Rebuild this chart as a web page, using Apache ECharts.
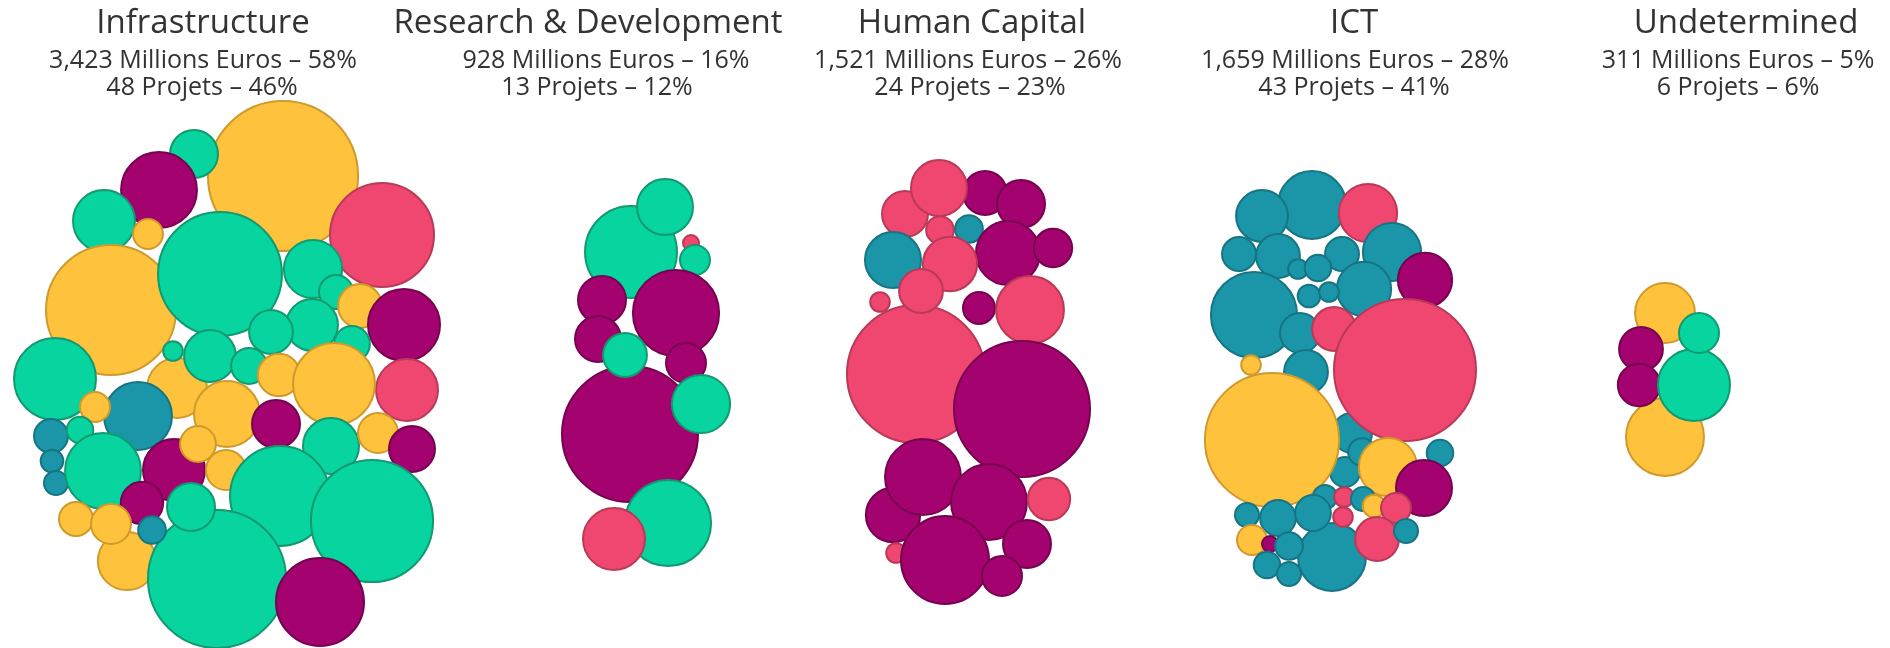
<!DOCTYPE html>
<html>
<head>
<meta charset="utf-8">
<title>Projects by sector</title>
<script src="https://cdn.jsdelivr.net/npm/echarts@6/dist/echarts.min.js"></script>
<style>
  html, body { margin: 0; padding: 0; background: #fff; }
  #container { width: 1890px; height: 648px; }
</style>
</head>
<body>
<div id="container"></div>
<script>
// sector headers
const sectors = ['Infrastructure', 'Research & Development', 'Human Capital', 'ICT', 'Undetermined'];
const sectorEuros = ['3,423', '928', '1,521', '1,659', '311'];
const sectorEuroShare = [58, 16, 26, 28, 5];
const sectorProjects = [48, 13, 24, 43, 6];
const sectorProjectShare = [46, 12, 23, 41, 6];

// project types (colour groups)
const projectTypes = ['yellow', 'green', 'red', 'purple', 'blue'];

// one project per row: [x, y, millions euros, type index]
const infrastructure = [
    [283, 176, 352, 0], [194, 154, 36, 1], [159, 190, 90, 3], [104, 221, 60, 1],
    [148, 234, 14, 0], [111, 310, 264, 0], [220, 274, 240, 1], [382, 235, 169, 2],
    [313, 269, 53, 1], [336, 292, 18, 1], [360, 306, 30, 0], [404, 325, 81, 3],
    [312, 325, 42, 1], [271, 332, 30, 1], [352, 344, 20, 1], [407, 390, 60, 2],
    [55, 379, 105, 1], [177, 388, 56, 0], [173, 351, 6, 1], [210, 356, 42, 1],
    [249, 366, 20, 1], [279, 375, 28, 0], [334, 384, 105, 0], [227, 414, 68, 0],
    [138, 416, 72, 4], [95, 407, 14, 0], [276, 424, 36, 3], [51, 436, 18, 4],
    [80, 430, 11, 1], [52, 461, 8, 4], [56, 483, 9, 4], [103, 471, 90, 1],
    [174, 470, 60, 3], [198, 444, 20, 0], [226, 470, 25, 0], [331, 446, 49, 1],
    [378, 433, 25, 0], [412, 449, 33, 3], [280, 496, 156, 1], [372, 521, 233, 1],
    [127, 561, 53, 0], [217, 579, 298, 1], [142, 503, 28, 3], [191, 507, 36, 1],
    [76, 519, 18, 0], [111, 524, 25, 0], [152, 530, 12, 4], [320, 602, 121, 3]
];
const research = [
    [631, 252, 132, 1], [665, 207, 49, 1], [691, 243, 4, 2], [695, 260, 14, 1],
    [602, 300, 36, 3], [598, 339, 33, 3], [676, 313, 116, 3], [686, 363, 25, 3],
    [630, 434, 289, 3], [625, 355, 30, 1], [701, 404, 53, 1], [668, 523, 116, 1],
    [614, 539, 60, 2]
];
const humanCapital = [
    [985, 193, 30, 3], [905, 214, 33, 2], [939, 188, 49, 2], [1021, 204, 36, 3],
    [940, 230, 12, 2], [969, 229, 12, 4], [893, 260, 49, 4], [1008, 253, 64, 3],
    [1053, 248, 23, 3], [950, 264, 46, 2], [880, 302, 6, 2], [979, 308, 16, 3],
    [1030, 310, 72, 2], [916, 374, 298, 2], [921, 291, 30, 2], [1022, 409, 289, 3],
    [893, 515, 46, 3], [923, 477, 90, 3], [989, 502, 90, 3], [1049, 499, 28, 2],
    [896, 553, 6, 2], [945, 560, 121, 3], [1027, 544, 36, 3], [1002, 576, 25, 3]
];
const ict = [
    [1352, 433, 25, 4], [1345, 472, 14, 4], [1362, 452, 12, 4], [1312, 205, 72, 4],
    [1262, 216, 42, 4], [1368, 213, 53, 2], [1392, 252, 53, 4], [1239, 254, 18, 4],
    [1278, 256, 30, 4], [1342, 254, 18, 4], [1298, 269, 6, 4], [1318, 268, 11, 4],
    [1425, 280, 46, 3], [1364, 289, 46, 4], [1309, 296, 8, 4], [1329, 292, 6, 4],
    [1254, 315, 116, 4], [1300, 333, 25, 4], [1334, 329, 30, 2], [1405, 370, 315, 2],
    [1251, 365, 6, 0], [1306, 372, 30, 4], [1272, 440, 281, 0], [1388, 467, 53, 0],
    [1440, 453, 11, 4], [1424, 488, 49, 3], [1332, 557, 72, 4], [1325, 497, 9, 4],
    [1344, 497, 6, 2], [1363, 499, 9, 4], [1374, 506, 8, 0], [1396, 508, 14, 2],
    [1343, 517, 6, 2], [1247, 515, 9, 4], [1278, 518, 20, 4], [1313, 513, 20, 4],
    [1377, 539, 30, 2], [1406, 531, 9, 4], [1252, 540, 14, 0], [1270, 544, 4, 3],
    [1289, 546, 12, 4], [1267, 565, 11, 4], [1289, 574, 9, 4]
];
const undetermined = [
    [1665, 313, 56, 0], [1665, 437, 95, 0], [1641, 349, 30, 3], [1639, 385, 28, 3],
    [1694, 385, 81, 1], [1699, 333, 25, 1]
];

const fills = ['#FFC23C', '#07D49F', '#EF476F', '#A4036F', '#1B96A8'];
const borders = ['#CF9A2C', '#12996F', '#B93A58', '#76034F', '#167483'];

// header layout
const titleX = [203, 588, 972, 1354, 1746];
const eurosX = [203, 606, 968, 1355, 1738];
const projectsX = [202, 597, 970, 1354, 1738];

const groups = [infrastructure, research, humanCapital, ict, undetermined];

const headerText = [];
sectors.forEach((name, i) => {
    const base = { fontFamily: 'Open Sans', fill: '#333', align: 'center', verticalAlign: 'middle' };
    headerText.push({ type: 'text', x: titleX[i], y: 24, style: Object.assign({ text: name, fontSize: 33 }, base) });
    headerText.push({
        type: 'text', x: eurosX[i], y: 61,
        style: Object.assign({ text: sectorEuros[i] + ' Millions Euros \u2013 ' + sectorEuroShare[i] + '%', fontSize: 25 }, base)
    });
    headerText.push({
        type: 'text', x: projectsX[i], y: 88,
        style: Object.assign({ text: sectorProjects[i] + ' Projets \u2013 ' + sectorProjectShare[i] + '%', fontSize: 25 }, base)
    });
});

const chart = echarts.init(document.getElementById('container'), null, { renderer: 'canvas' });

const option = {
    animation: false,
    grid: { left: 0, right: 0, top: 0, bottom: 0 },
    xAxis: { type: 'value', min: 0, max: 1890, show: false },
    yAxis: { type: 'value', min: 0, max: 648, inverse: true, show: false },
    graphic: headerText,
    series: groups.map((rows, i) => ({
        name: sectors[i],
        type: 'scatter',
        symbol: 'circle',
        symbolSize: d => 8 * Math.sqrt(d[2]),
        data: rows.map(r => ({
            value: r,
            itemStyle: { color: fills[r[3]], borderColor: borders[r[3]], borderWidth: 2, opacity: 1 }
        }))
    }))
};

chart.setOption(option);
window.addEventListener('resize', () => chart.resize());
</script>
</body>
</html>
